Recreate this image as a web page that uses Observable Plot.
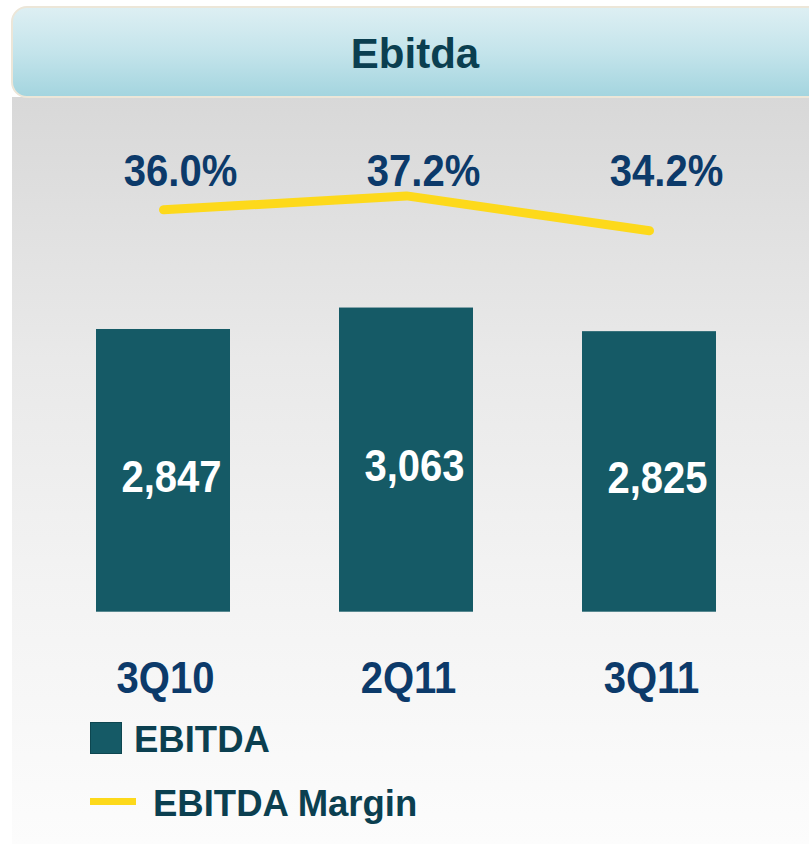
<!DOCTYPE html>
<html>
<head>
<meta charset="utf-8">
<script src="https://cdn.jsdelivr.net/npm/d3@7"></script>
<script src="https://cdn.jsdelivr.net/npm/@observablehq/plot@0.6"></script>
<style>
  html, body { margin: 0; padding: 0; background: #ffffff; }
  body { width: 809px; height: 844px; overflow: hidden; position: relative; font-family: "Liberation Sans", Arial, sans-serif; }
  #titlebar {
    position: absolute; left: 11px; top: 6px; width: 812px; height: 92px; box-sizing: border-box;
    border: 2px solid #ece6d8; border-radius: 16px;
    background: linear-gradient(to bottom, #ddeff3 0%, #c4e4eb 50%, #a4d5df 100%);
  }
  #title {
    position: absolute; left: 0; width: 830px; top: 32.7px; text-align: center;
    font-size: 42px; line-height: 42px; font-weight: bold; color: #0b3f50;
  }
  #panel {
    position: absolute; left: 12px; top: 97px; width: 797px; height: 747px;
    background: linear-gradient(to bottom, #d8d8d8 0%, #e9e9e9 35%, #f3f3f3 65%, #fcfcfc 100%);
  }
  .chart { position: absolute; left: 0; top: 97px; }
  .leg-text { position: absolute; font-size: 36.5px; line-height: 36.5px; font-weight: bold; color: #0b3f50; white-space: nowrap; }
  #leg-sq { position: absolute; left: 90px; top: 722px; width: 32px; height: 32px; box-sizing: border-box; background: #155a66; border: 1.5px solid #0d4650; }
  #leg-ln { position: absolute; left: 90px; top: 797.5px; width: 46px; height: 7.5px; background: #fdd91b; }
</style>
</head>
<body>
<div id="panel"></div>
<div id="titlebar"></div>
<div id="title">Ebitda</div>
<div id="bars" class="chart"></div>
<div id="line" class="chart"></div>
<div id="leg-sq"></div>
<div class="leg-text" style="left:134px; top:722.4px;">EBITDA</div>
<div id="leg-ln"></div>
<div class="leg-text" style="left:153px; top:786.4px;">EBITDA Margin</div>
<script>
// ---- data ----
const categories = ["3Q10", "2Q11", "3Q11"];
const ebitda = [2847, 3063, 2825];
const ebitdaMargin = [36.0, 37.2, 34.2];

const data = categories.map((c, i) => ({cat: c, ebitda: ebitda[i], margin: ebitdaMargin[i]}));
const fmtInt = d3.format(",");
const fmtPct = (v) => d3.format(".1f")(v) + "%";

const navy = "#0c3a6a";
const teal = "#155a66";
const yellow = "#fdd91b";

const xScale = {type: "band", domain: categories, range: [1.1, 810.1], paddingInner: 0.4495, paddingOuter: 0.3867, label: null};

const barChart = Plot.plot({
  width: 809,
  height: 610,
  marginTop: 0,
  marginBottom: 95,
  marginLeft: 0,
  marginRight: 0,
  style: {background: "transparent", overflow: "visible", fontFamily: "Liberation Sans, Arial, sans-serif", color: navy},
  x: xScale,
  y: {domain: [0, 3500], range: [514.7, 167.15], axis: null},
  marks: [
    Plot.barY(data, {x: "cat", y: "ebitda", fill: teal}),
    Plot.text(data, {
      x: "cat", y: (d) => d.ebitda / 2, text: (d) => fmtInt(d.ebitda),
      fill: "white", fontSize: 44, fontWeight: "bold", lineAnchor: "bottom", dx: 8, dy: 21
    }),
    Plot.axisX({tickSize: 0, tickPadding: 49, fontSize: 44, fontWeight: "bold", fill: navy, dx: 2, label: null})
  ]
});

const lineChart = Plot.plot({
  width: 809,
  height: 610,
  marginTop: 88,
  marginBottom: 95,
  marginLeft: 0,
  marginRight: 0,
  style: {background: "transparent", overflow: "visible", fontFamily: "Liberation Sans, Arial, sans-serif", color: navy},
  x: {...xScale, axis: null},
  y: {domain: [30, 40], range: [182.07, 65.87], axis: null},
  marks: [
    Plot.line(data, {x: "cat", y: "margin", stroke: yellow, strokeWidth: 9, strokeLinecap: "round", strokeLinejoin: "round"}),
    Plot.text(data, {
      x: "cat", frameAnchor: "top", text: (d) => fmtPct(d.margin),
      fill: navy, fontSize: 44, fontWeight: "bold", lineAnchor: "bottom", dx: 17
    })
  ]
});

// slightly condensed lettering as in the original
for (const svg of [barChart, lineChart]) {
  svg.querySelectorAll("text").forEach((t) => {
    const tr = t.getAttribute("transform");
    if (tr) t.setAttribute("transform", tr + " scale(0.91,1)");
  });
}

document.getElementById("bars").appendChild(barChart);
document.getElementById("line").appendChild(lineChart);
</script>
</body>
</html>
